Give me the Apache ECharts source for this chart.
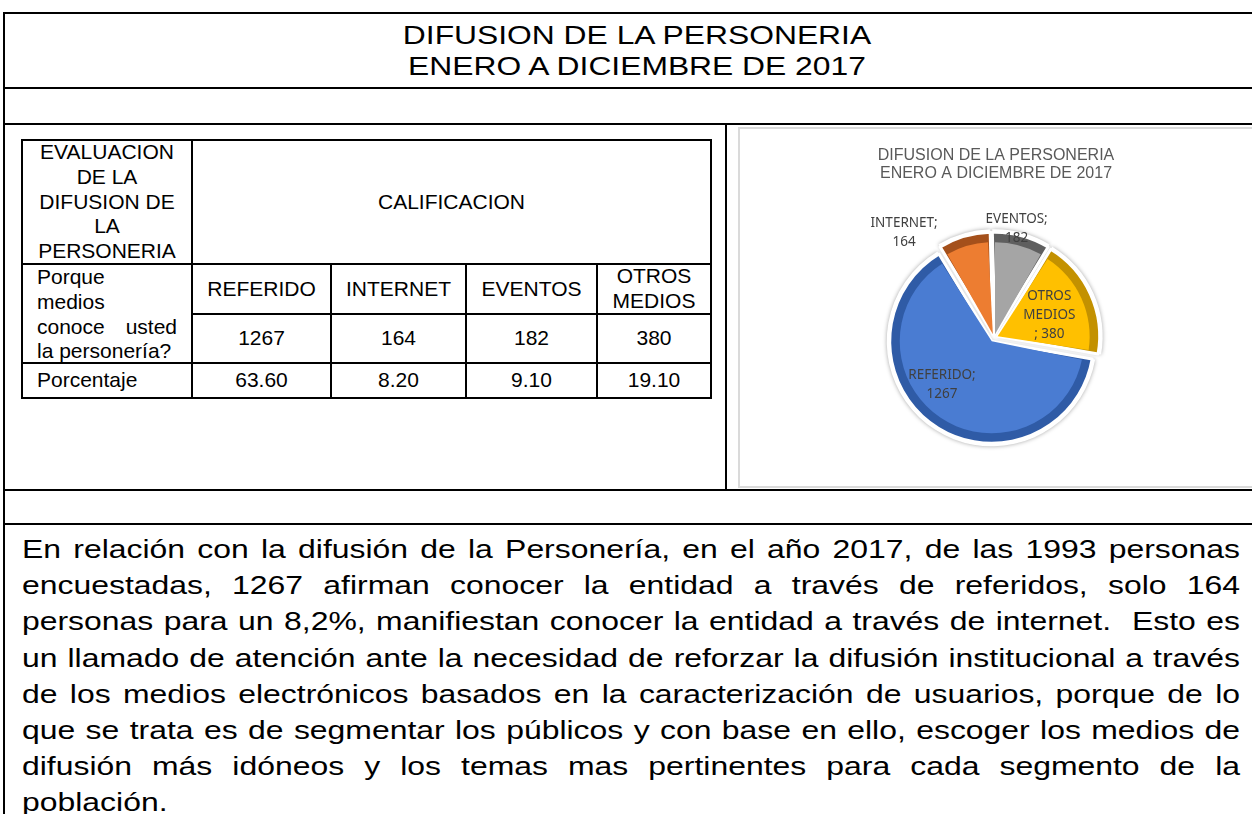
<!DOCTYPE html>
<html>
<head>
<meta charset="utf-8">
<script src="https://cdn.jsdelivr.net/npm/echarts@6/dist/echarts.min.js"></script>
<style>
  html, body { margin: 0; padding: 0; width: 1252px; height: 814px; overflow: hidden; background: #fff; }
  body { position: relative; font-family: "Liberation Sans", Arial, sans-serif; color: #000; }
  .ln { position: absolute; background: #000; }
  .title { position: absolute; left: 337px; top: 19.5px; width: 600px; text-align: center; font-size: 26.5px; line-height: 31.5px; white-space: nowrap; transform: scaleX(1.2); transform-origin: 300px 0; }
  .cell { position: absolute; box-sizing: border-box; border: 2px solid #000; display: flex; align-items: center; justify-content: center; text-align: center; font-size: 21px; line-height: 24.8px; }
  .cell.left { justify-content: flex-start; text-align: left; padding-left: 14px; }
  .cell.ask { display: block; text-align: left; padding: 0 14px; }
  .ask .row { display: flex; justify-content: space-between; }
  #panel { position: absolute; left: 738px; top: 127px; width: 530px; height: 361px; box-sizing: border-box; border: 2px solid #dadada; }
  #chart { position: absolute; left: 740px; top: 128px; width: 512px; height: 360px; }
  .text { position: absolute; left: 22px; top: 531px; width: 1015px; font-size: 26.6px; line-height: 36.2px; text-align: justify; transform: scaleX(1.2); transform-origin: 0 0; }
</style>
</head>
<body>
<div class="ln" style="left:3px;top:12px;width:2px;height:802px"></div>
<div class="ln" style="left:3px;top:12px;width:1249px;height:2px"></div>
<div class="ln" style="left:3px;top:87px;width:1249px;height:2px"></div>
<div class="ln" style="left:3px;top:123px;width:1249px;height:2px"></div>
<div class="ln" style="left:725px;top:124px;width:2px;height:366px"></div>
<div class="ln" style="left:3px;top:489px;width:1249px;height:2px"></div>
<div class="ln" style="left:3px;top:523px;width:1249px;height:2px"></div>

<div class="title">DIFUSION DE LA PERSONERIA<br>ENERO A DICIEMBRE DE 2017</div>

<div id="panel"></div>
<div id="chart"></div>

<div class="text">En relación con la difusión de la Personería, en el año 2017, de las 1993 personas encuestadas, 1267 afirman conocer la entidad a través de referidos, solo 164 personas para un 8,2%, manifiestan conocer la entidad a través de internet.&nbsp; Esto es un llamado de atención ante la necesidad de reforzar la difusión institucional a través de los medios electrónicos basados en la caracterización de usuarios, porque de lo que se trata es de segmentar los públicos y con base en ello, escoger los medios de difusión más idóneos y los temas mas pertinentes para cada segmento de la población.</div>

<script>
// datos de la encuesta
const categories = ['REFERIDO', 'INTERNET', 'EVENTOS', 'OTROS MEDIOS'];
const counts = [1267, 164, 182, 380];
const percents = ['63.60', '8.20', '9.10', '19.10'];

const faceColors = ['#4a7cd2', '#ed7d31', '#a5a5a5', '#ffc000'];
const edgeColors = ['#2f5ba6', '#a4501b', '#5f5f5f', '#c39100'];

// tabla
const colX = [22, 192, 331, 466, 597, 711];
const rowY = [140, 264, 314, 363, 398];

function cell (c0, c1, r0, r1, html, cls) {
  const d = document.createElement('div');
  d.className = 'cell ' + (cls || '');
  d.style.left = (colX[c0] - 1) + 'px';
  d.style.top = (rowY[r0] - 1) + 'px';
  d.style.width = (colX[c1] - colX[c0] + 2) + 'px';
  d.style.height = (rowY[r1] - rowY[r0] + 2) + 'px';
  d.innerHTML = html;
  document.body.appendChild(d);
}

cell(0, 1, 0, 1, 'EVALUACION<br>DE LA<br>DIFUSION DE<br>LA<br>PERSONERIA');
cell(1, 5, 0, 1, 'CALIFICACION');
cell(0, 1, 1, 3, '<div>Porque</div><div>medios</div><div class="row"><span>conoce</span><span>usted</span></div><div>la personería?</div>', 'ask');
cell(0, 1, 3, 4, 'Porcentaje', 'left');
categories.forEach((c, i) => {
  cell(i + 1, i + 2, 1, 2, c);
  cell(i + 1, i + 2, 2, 3, String(counts[i]));
  cell(i + 1, i + 2, 3, 4, percents[i]);
});

// grafico
const labelShift = [[-22, 3], [-75, -54], [9, -58], [7, -1]];

function slices (colors) {
  return categories.map((name, i) => ({
    name: name,
    value: counts[i],
    selected: true,
    itemStyle: { color: colors[i] }
  }));
}

const base = {
  type: 'pie',
  center: [254, 210],
  startAngle: -10,
  selectedMode: 'multiple',
  selectedOffset: 4,
  animation: false,
  silent: true,
  emphasis: { disabled: true },
  label: { show: false },
  labelLine: { show: false }
};

const chart = echarts.init(document.getElementById('chart'));
chart.setOption({
  animation: false,
  title: {
    text: 'DIFUSION DE LA PERSONERIA\nENERO A DICIEMBRE DE 2017',
    left: 'center',
    top: 14,
    textStyle: {
      fontFamily: 'Liberation Sans',
      fontSize: 16,
      lineHeight: 18,
      fontWeight: 'normal',
      color: '#595959'
    }
  },
  series: [
    Object.assign({}, base, {
      radius: 105,
      data: slices(['#fff', '#fff', '#fff', '#fff']),
      itemStyle: { shadowBlur: 4, shadowColor: 'rgba(0,0,0,0.35)' }
    }),
    Object.assign({}, base, {
      radius: 102,
      data: slices(edgeColors),
      itemStyle: { borderColor: '#fff', borderWidth: 3 }
    }),
    Object.assign({}, base, {
      radius: 92,
      padAngle: 3,
      data: slices(faceColors),
      label: {
        show: true,
        position: 'inside',
        color: '#404040',
        fontFamily: 'Noto Sans',
        fontSize: 13.5,
        lineHeight: 19,
        formatter: p => p.name.indexOf(' ') > -1
          ? p.name.split(' ').join('\n') + '\n; ' + p.value
          : p.name + ';\n' + p.value
      },
      labelLayout: p => ({ dx: labelShift[p.dataIndex][0], dy: labelShift[p.dataIndex][1] })
    })
  ]
});
</script>
</body>
</html>
